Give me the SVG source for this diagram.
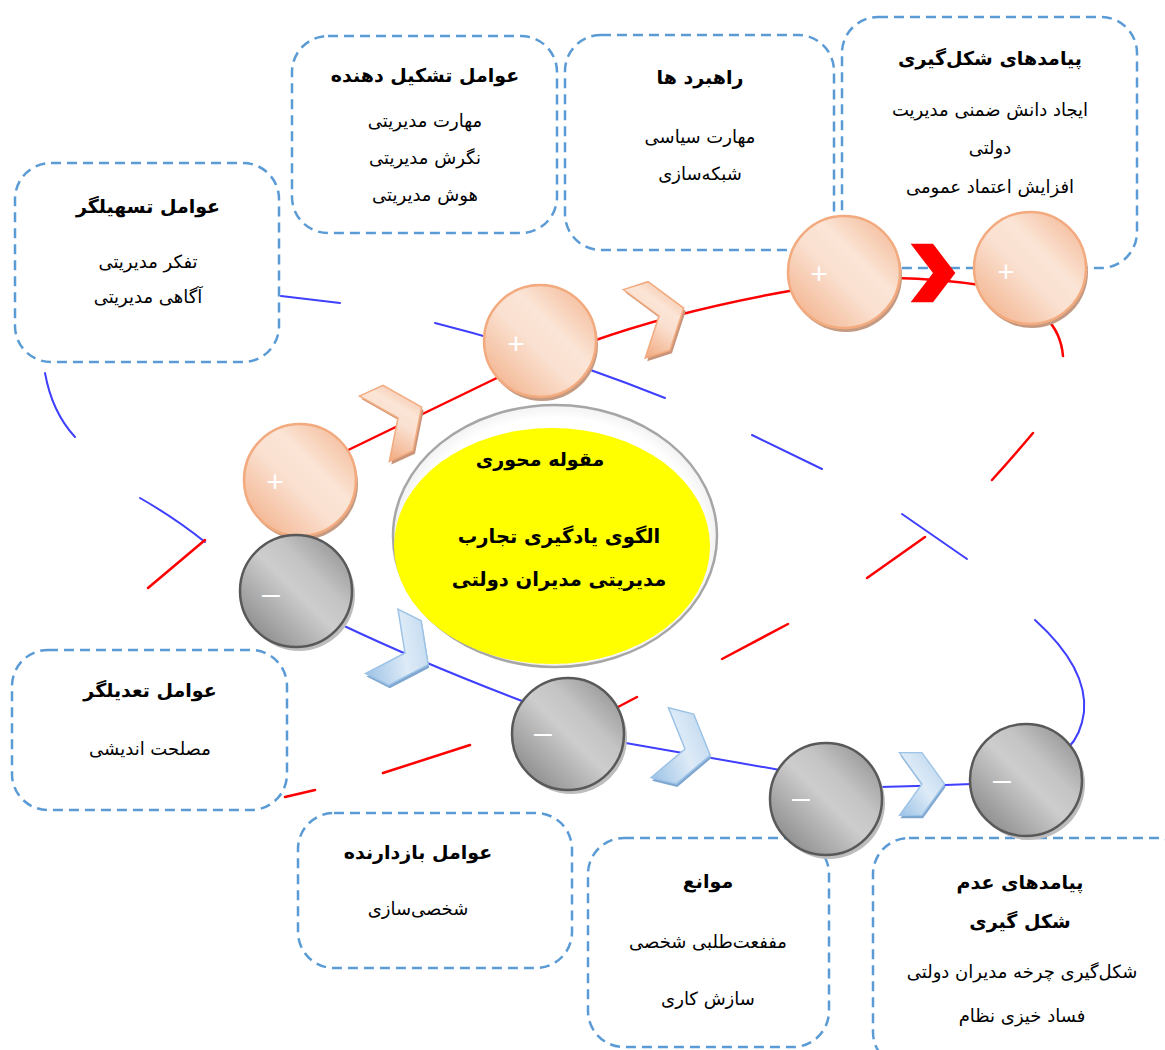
<svg xmlns="http://www.w3.org/2000/svg" width="1165" height="1050" viewBox="0 0 1165 1050">
<defs>
<linearGradient id="peachG" x1="0" y1="1" x2="1" y2="0">
<stop offset="0" stop-color="#F1A97E"/>
<stop offset="0.45" stop-color="#FAE0D0"/>
<stop offset="0.62" stop-color="#FBE5D6"/>
<stop offset="1" stop-color="#F2B08A"/>
</linearGradient>
<linearGradient id="grayG" x1="0" y1="1" x2="1" y2="0">
<stop offset="0" stop-color="#7A7A7A"/>
<stop offset="0.5" stop-color="#CDCDCD"/>
<stop offset="0.65" stop-color="#C4C4C4"/>
<stop offset="1" stop-color="#858585"/>
</linearGradient>
<linearGradient id="blueG" x1="0" y1="1" x2="1" y2="0">
<stop offset="0" stop-color="#9DC3E6"/>
<stop offset="0.5" stop-color="#DEEBF7"/>
<stop offset="1" stop-color="#B4D1EC"/>
</linearGradient>
<radialGradient id="ringG" cx="0.5" cy="0.5" r="0.5">
<stop offset="0.9" stop-color="#FFFFFF"/>
<stop offset="1" stop-color="#F2F2F2"/>
</radialGradient>
<polygon id="chev" points="-26,-36 0,-36 26,0 0,36 -26,36 0,0"/>
</defs>
<style>
.box{fill:#FFFFFF;stroke:#5B9BD5;stroke-width:2.5;stroke-dasharray:10 6}
.t{font-family:"DejaVu Sans",sans-serif;font-size:18px;fill:#000000;text-anchor:middle;direction:rtl}
.h{font-weight:bold;font-size:19px}
.c{font-size:19.5px}
.red{fill:none;stroke:#FF0000;stroke-width:2.5;stroke-linecap:round}
.blue{fill:none;stroke:#3F3FFF;stroke-width:2;stroke-linecap:round}
.pc{fill:url(#peachG);stroke:#F2AA7E;stroke-width:2.5}
.ps{fill:#C49A82}
.gc{fill:url(#grayG);stroke:#595959;stroke-width:2.5}
.gs{fill:#BDBDBD}
.pch{fill:url(#peachG);stroke:#F2AA7E;stroke-width:1.5}
.pchs{fill:#C9957A}
.bch{fill:url(#blueG);stroke:#9DC3E6;stroke-width:1.5}
.bchs{fill:#7FA6CF}
.sign{font-family:"Liberation Sans",Arial,sans-serif;fill:#FFFFFF;text-anchor:middle}
</style>
<rect width="1165" height="1050" fill="#FFFFFF"/>

<g id="box-tashilgar">
<rect class="box" x="15" y="163" width="264" height="199" rx="36"/>
<text class="t h" x="148" y="213">عوامل تسهیلگر</text>
<text class="t" x="148" y="268">تفکر مدیریتی</text>
<text class="t" x="148" y="303">آگاهی مدیریتی</text>
</g>
<g id="box-tashkil">
<rect class="box" x="292" y="36" width="265" height="197" rx="36"/>
<text class="t h" x="425" y="82">عوامل تشکیل دهنده</text>
<text class="t" x="425" y="127">مهارت مدیریتی</text>
<text class="t" x="425" y="164">نگرش مدیریتی</text>
<text class="t" x="425" y="201">هوش مدیریتی</text>
</g>
<g id="box-rahbord">
<rect class="box" x="565" y="35" width="269" height="215" rx="36"/>
<text class="t h" x="700" y="84">راهبرد ها</text>
<text class="t" x="700" y="143">مهارت سیاسی</text>
<text class="t" x="700" y="180">شبکه‌سازی</text>
</g>
<g id="box-payamad">
<rect class="box" x="842" y="17" width="295" height="251" rx="36"/>
<text class="t h" x="990" y="65">پیامدهای شکل‌گیری</text>
<text class="t" x="990" y="116">ایجاد دانش ضمنی مدیریت</text>
<text class="t" x="990" y="154">دولتی</text>
<text class="t" x="990" y="193">افزایش اعتماد عمومی</text>
</g>
<g id="box-tadilgar">
<rect class="box" x="12" y="650" width="275" height="160" rx="36"/>
<text class="t h" x="150" y="697">عوامل تعدیلگر</text>
<text class="t" x="150" y="755">مصلحت اندیشی</text>
</g>
<g id="box-bazdarande">
<rect class="box" x="298" y="813" width="274" height="155" rx="36"/>
<text class="t h" x="418" y="859">عوامل بازدارنده</text>
<text class="t" x="418" y="915">شخصی‌سازی</text>
</g>
<g id="box-mavane">
<rect class="box" x="588" y="838" width="241" height="209" rx="36"/>
<text class="t h" x="708" y="888">موانع</text>
<text class="t" x="708" y="948">مففعت‌طلبی شخصی</text>
<text class="t" x="708" y="1005">سازش کاری</text>
</g>
<g id="box-adam">
<rect class="box" x="873" y="838" width="320" height="230" rx="36"/>
<text class="t h" x="1020" y="889">پیامدهای عدم</text>
<text class="t h" x="1020" y="928">شکل گیری</text>
<text class="t" x="1022" y="978">شکل‌گیری چرخه مدیران دولتی</text>
<text class="t" x="1022" y="1022">فساد خیزی نظام</text>
</g>

<g id="connectors">
<path class="blue" d="M45 373 Q52 412 75 437"/>
<path class="blue" d="M140 498 Q175 518 205 542"/>
<path class="red" d="M205 540 L148 588"/>
<path class="blue" d="M281 296 L340 303"/>
<path class="blue" d="M435 323 Q550 352 665 398"/>
<path class="blue" d="M752 435 L822 469"/>
<path class="blue" d="M902 514 L967 559"/>
<path class="blue" d="M1035 620 Q1088 668 1084 712 Q1081 735 1068 748"/>
<path class="red" d="M340 454 L505 374"/>
<path class="red" d="M590 342 Q680 310 795 290"/>
<path class="red" d="M895 278 Q940 279 980 285"/>
<path class="red" d="M1046 318 Q1061 333 1063 356"/>
<path class="red" d="M1033 433 Q1012 458 992 480"/>
<path class="red" d="M925 537 L867 578"/>
<path class="red" d="M788 624 L722 659"/>
<path class="red" d="M637 697 L618 707"/>
<path class="red" d="M470 745 L383 773"/>
<path class="red" d="M315 790 L285 797"/>
<path class="blue" d="M340 624 Q420 662 522 701"/>
<path class="blue" d="M620 742 Q700 756 780 770"/>
<path class="blue" d="M880 787 Q925 786 972 784"/>
<g id="arrow-p1"><use href="#chev" class="pchs" transform="translate(400,421) rotate(-24.6)"/><use href="#chev" class="pch" transform="translate(398,418) rotate(-24.6)"/></g>
<g id="arrow-p2"><use href="#chev" class="pchs" transform="translate(661,319) rotate(-17.7)"/><use href="#chev" class="pch" transform="translate(659,316) rotate(-17.7)"/></g>
<g id="arrow-p3"><use href="#chev" fill="#FF0000" transform="translate(933,273) scale(0.86,0.81)"/></g>
<g id="arrow-m1"><use href="#chev" class="bchs" transform="translate(406,656) rotate(26.7)"/><use href="#chev" class="bch" transform="translate(405,653) rotate(26.7)"/></g>
<g id="arrow-m2"><use href="#chev" class="bchs" transform="translate(686,752) rotate(14)"/><use href="#chev" class="bch" transform="translate(685,749) rotate(14)"/></g>
<g id="arrow-m3"><use href="#chev" class="bchs" transform="translate(923,787) scale(0.87)"/><use href="#chev" class="bch" transform="translate(922,784) scale(0.87)"/></g>
</g>

<g id="node-p1"><circle class="ps" cx="302" cy="484" r="56"/><circle class="pc" cx="300" cy="480" r="56"/><text class="sign" x="275" y="492" font-size="30">+</text></g>
<g id="node-p2"><circle class="ps" cx="542" cy="345" r="56"/><circle class="pc" cx="540" cy="341" r="56"/><text class="sign" x="516" y="354" font-size="30">+</text></g>
<g id="node-p3"><circle class="ps" cx="846" cy="276" r="56"/><circle class="pc" cx="844" cy="272" r="56"/><text class="sign" x="819" y="284" font-size="30">+</text></g>
<g id="node-p4"><circle class="ps" cx="1032" cy="272" r="56"/><circle class="pc" cx="1030" cy="268" r="56"/><text class="sign" x="1006" y="282" font-size="30">+</text></g>
<g id="node-m1"><circle class="gs" cx="299" cy="595" r="56"/><circle class="gc" cx="296" cy="591" r="56"/><text class="sign" x="271" y="604" font-size="32">–</text></g>
<g id="node-m2"><circle class="gs" cx="571" cy="738" r="56"/><circle class="gc" cx="568" cy="734" r="56"/><text class="sign" x="543" y="743" font-size="32">–</text></g>
<g id="node-m3"><circle class="gs" cx="829" cy="803" r="56"/><circle class="gc" cx="826" cy="799" r="56"/><text class="sign" x="801" y="808" font-size="32">–</text></g>
<g id="node-m4"><circle class="gs" cx="1029" cy="784" r="56"/><circle class="gc" cx="1026" cy="780" r="56"/><text class="sign" x="1002" y="790" font-size="32">–</text></g>

<g id="node-center">
<ellipse cx="555" cy="536" rx="162" ry="131" fill="url(#ringG)" stroke="#A6A6A6" stroke-width="2.5"/>
<ellipse cx="552" cy="546" rx="158" ry="118" fill="#FFFF00"/>
<text class="t h" x="540" y="466">مقوله محوری</text>
<text class="t h c" x="559" y="543">الگوی یادگیری تجارب</text>
<text class="t h c" x="559" y="586">مدیریتی مدیران دولتی</text>
</g>
</svg>
